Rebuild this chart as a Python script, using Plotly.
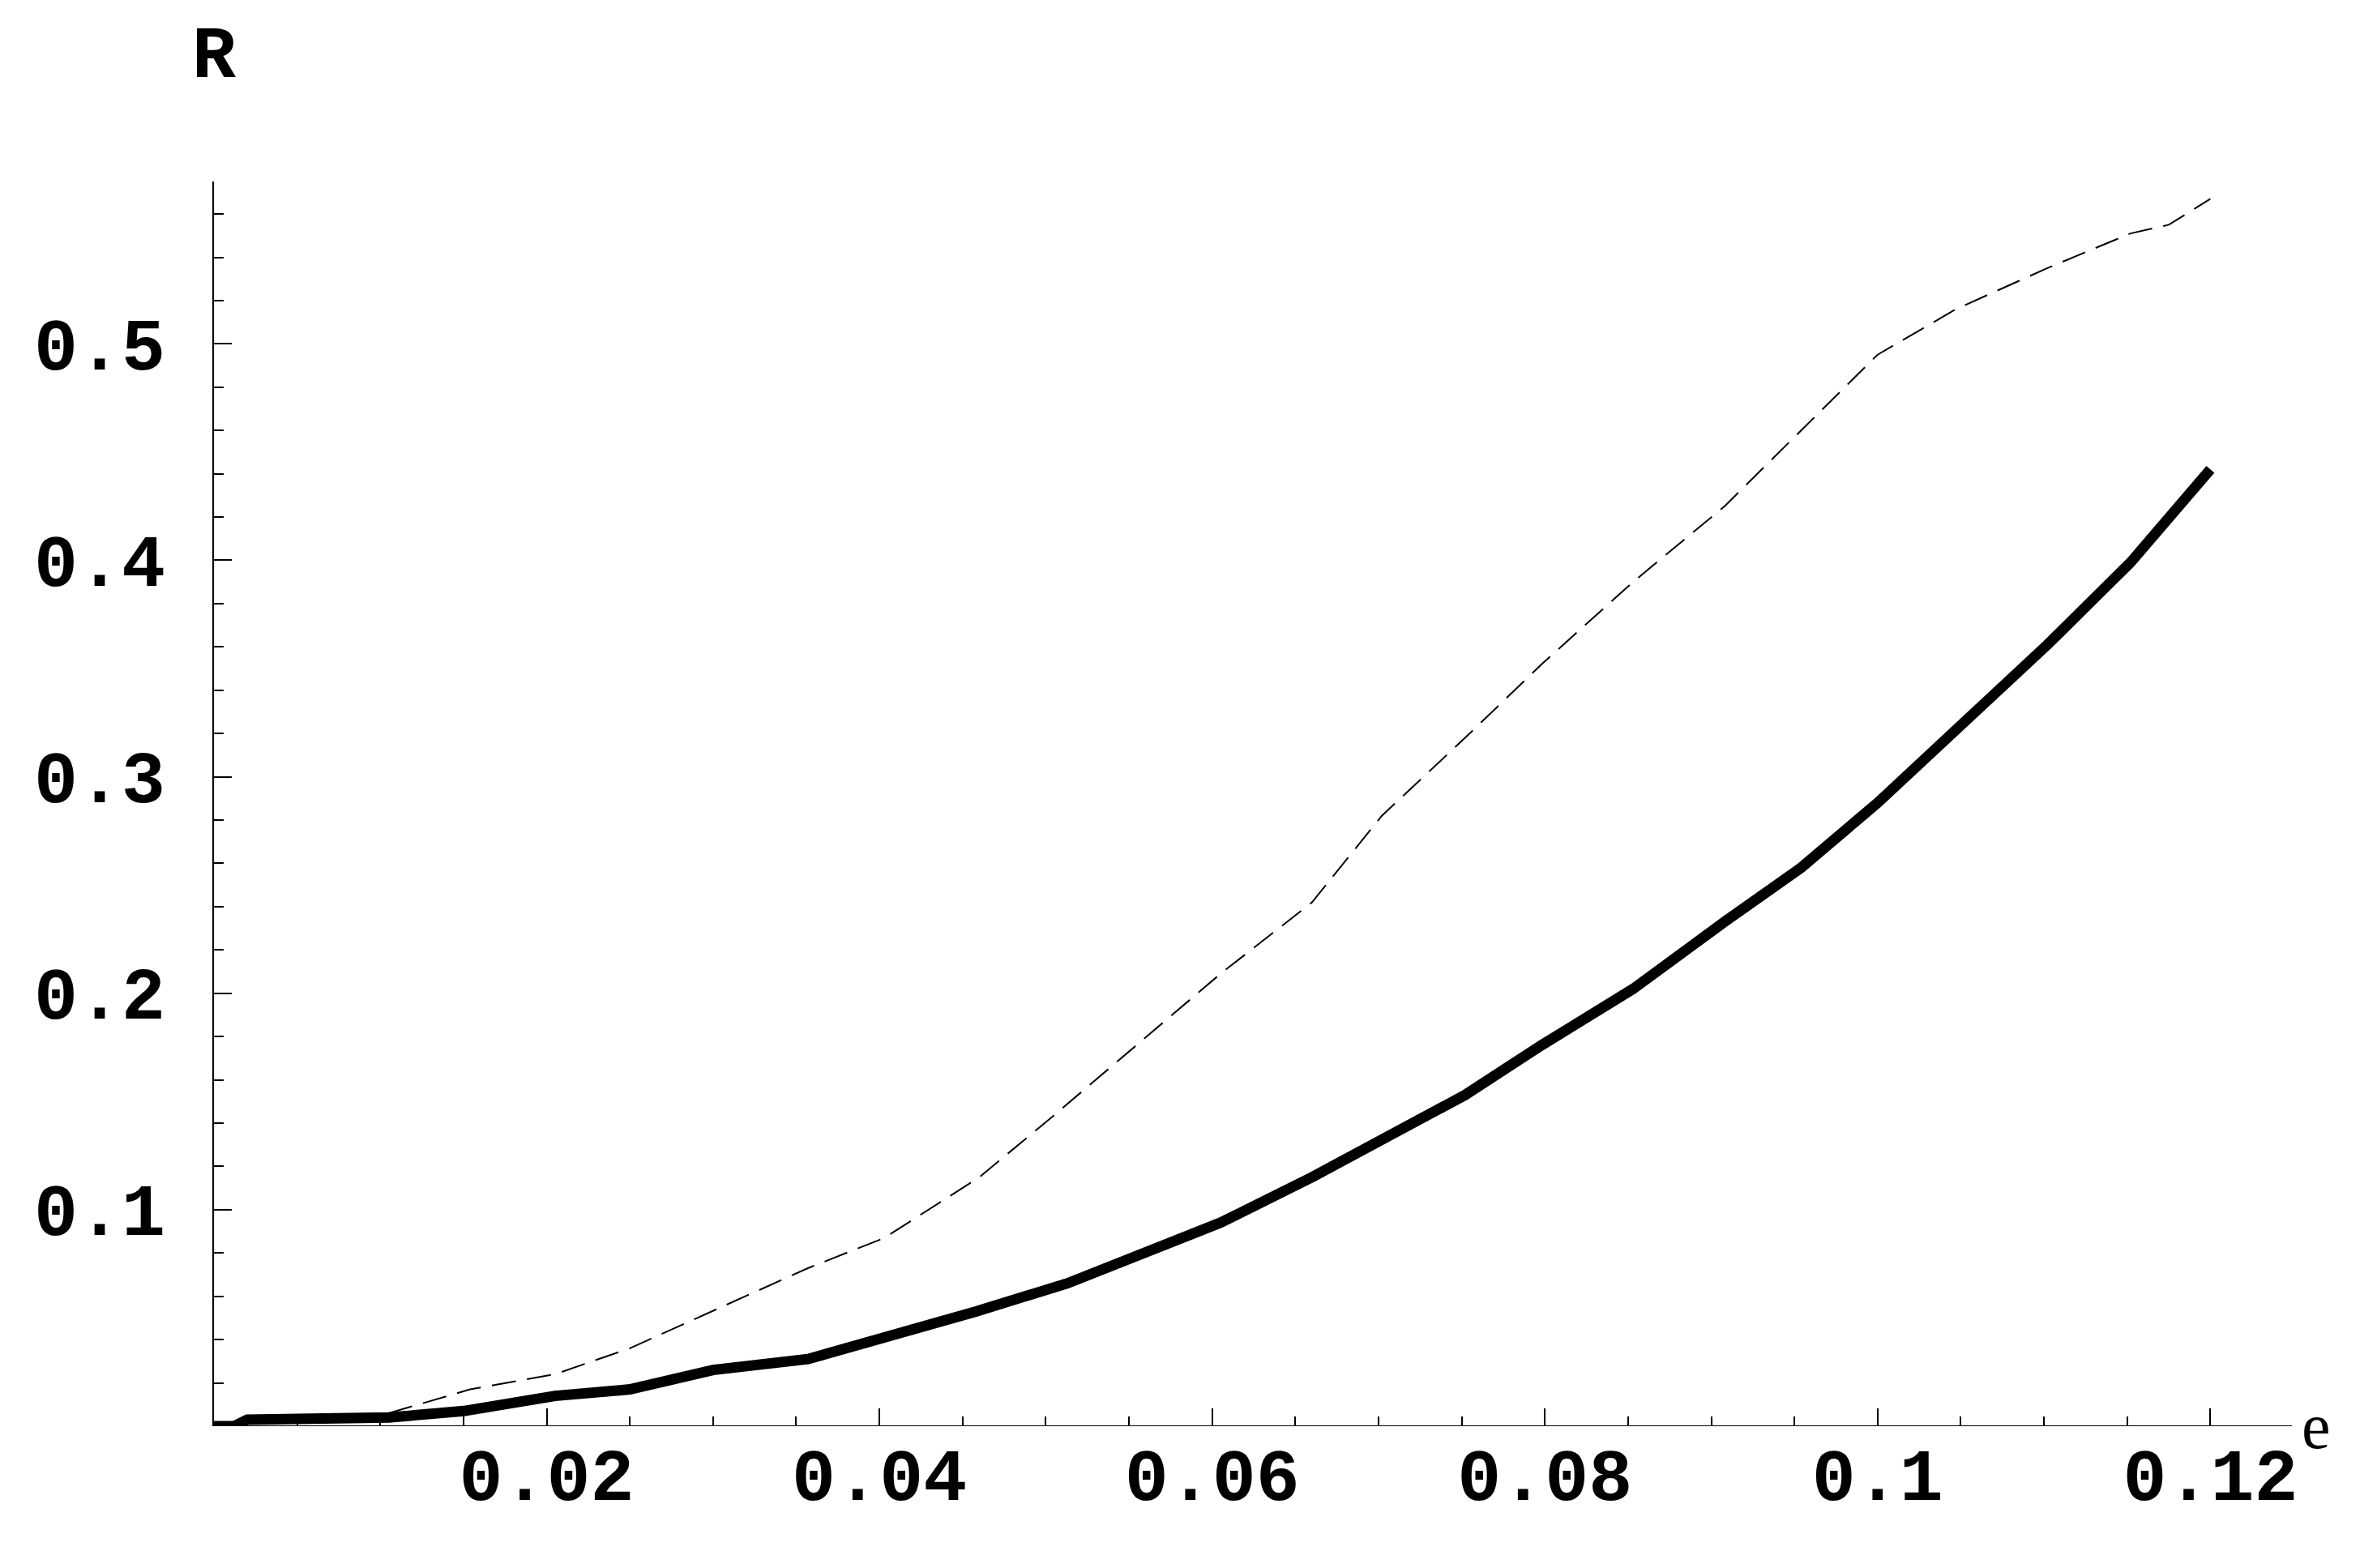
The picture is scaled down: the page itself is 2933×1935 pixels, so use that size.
import plotly.graph_objects as go

# solid curve
e_solid = [0, 0.0012, 0.002, 0.0105, 0.015, 0.0205, 0.025, 0.030, 0.0357, 0.040, 0.0458, 0.0513,
           0.055, 0.0605, 0.066, 0.0706, 0.0752, 0.0798, 0.0853, 0.0908, 0.0954, 0.1, 0.1047,
           0.1102, 0.1152, 0.12]
r_solid = [0, 0, 0.003, 0.004, 0.007, 0.014, 0.017, 0.026, 0.031, 0.040, 0.053, 0.066,
           0.077, 0.094, 0.115, 0.134, 0.153, 0.176, 0.202, 0.233, 0.258, 0.288, 0.322,
           0.361, 0.399, 0.442]

# dashed curve
e_dash = [0.0105, 0.0154, 0.0205, 0.025, 0.0302, 0.0357, 0.0403, 0.046, 0.0504, 0.055, 0.0605,
          0.066, 0.0702, 0.0752, 0.0798, 0.0853, 0.0908, 0.0954, 0.1, 0.1047, 0.1102, 0.1152,
          0.1175, 0.12]
r_dash = [0.006, 0.017, 0.024, 0.036, 0.054, 0.073, 0.087, 0.115, 0.143, 0.173, 0.209,
          0.242, 0.282, 0.318, 0.352, 0.390, 0.425, 0.460, 0.495, 0.516, 0.535, 0.551,
          0.555, 0.567]

x_ticks = [0.02, 0.04, 0.06, 0.08, 0.1, 0.12]
x_labels = ["0.02", "0.04", "0.06", "0.08", "0.1", "0.12"]
y_ticks = [0.1, 0.2, 0.3, 0.4, 0.5]
y_labels = ["0.1", "0.2", "0.3", "0.4", "0.5"]

TICKFONT = dict(family="Liberation Mono", size=90, color="black", weight="bold")

fig = go.Figure()
fig.add_trace(go.Scatter(x=e_dash, y=r_dash, mode="lines",
                         line=dict(color="black", width=2, dash="30px,14px")))
fig.add_trace(go.Scatter(x=e_solid, y=r_solid, mode="lines",
                         line=dict(color="black", width=13)))

fig.update_layout(
    width=2933, height=1935, plot_bgcolor="white", paper_bgcolor="white",
    showlegend=False, margin=dict(l=256, r=113, t=216, b=183),
    annotations=[
        dict(text="e", x=1.0, y=0, xref="paper", yref="y", xanchor="left", yanchor="middle",
             xshift=10, showarrow=False, font=dict(family="Liberation Serif", size=80, color="black")),
        dict(text="R", x=0, y=1, xref="paper", yref="paper", xanchor="center", yanchor="bottom",
             yshift=100, showarrow=False, font=dict(family="Liberation Mono", size=90, color="black", weight="bold")),
    ],
)
fig.update_xaxes(range=[0, 0.1249], showgrid=False, zeroline=False, showline=False,
                 tickvals=x_ticks, ticktext=x_labels, tickfont=TICKFONT,
                 ticks="inside", ticklen=22, tickwidth=2, tickcolor="black",
                 minor=dict(dtick=0.005, tick0=0, ticks="inside", ticklen=12, tickwidth=1.5, tickcolor="black"),
                 anchor="free", position=0)
fig.update_yaxes(range=[0, 0.575], showgrid=False, zeroline=False, showline=True,
                 linecolor="black", linewidth=2,
                 tickvals=y_ticks, ticktext=y_labels, tickfont=TICKFONT,
                 ticks="inside", ticklen=22, tickwidth=2, tickcolor="black",
                 minor=dict(dtick=0.02, tick0=0, ticks="inside", ticklen=12, tickwidth=1.5, tickcolor="black"),
                 ticklabelstandoff=40)
# x axis line at R=0
fig.add_hline(y=0, line=dict(color="black", width=2))
fig.write_html("out.html")
